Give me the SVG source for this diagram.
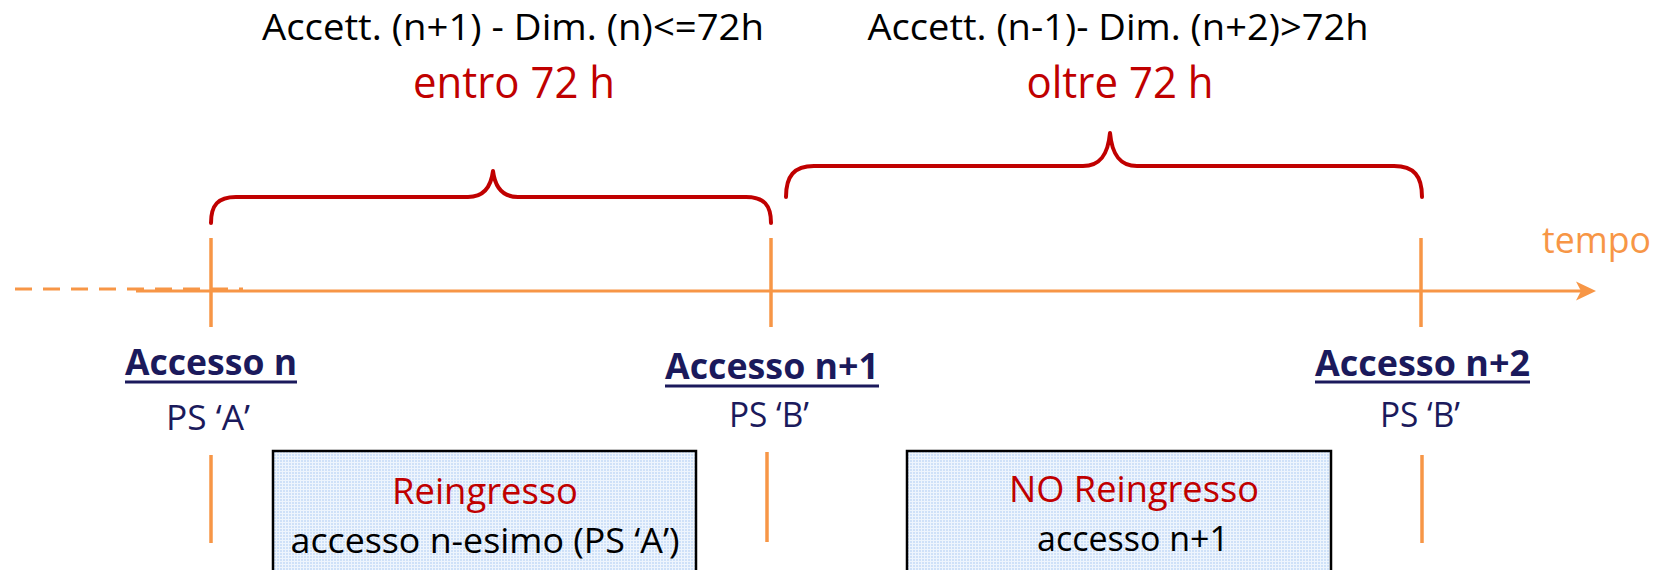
<svg xmlns="http://www.w3.org/2000/svg" width="1664" height="570" viewBox="0 0 1664 570">
  <defs>
    <!-- fine light-blue grid fill used by the outcome boxes -->
    <pattern id="grid" width="3" height="3" patternUnits="userSpaceOnUse">
      <rect width="3" height="3" fill="#CFE1F8"/>
      <rect x="0" y="0" width="3" height="1" fill="#EEF5FD"/>
      <rect x="0" y="0" width="1" height="3" fill="#EEF5FD"/>
    </pattern>
  </defs>
  <style>
    text { font-family: "Open Sans", "Noto Sans", "Liberation Sans", sans-serif; }
    .title { font-size: 36px; fill: #000000; }
    .span { font-size: 43px; fill: #C00000; }
    .tempo { font-size: 36px; fill: #F79646; }
    .acc { font-size: 36px; font-weight: bold; fill: #1B1A5C; }
    .ps { font-size: 35px; fill: #1B1A5C; }
    .boxhead { font-size: 37px; fill: #C00000; }
    .boxbody { font-size: 35px; fill: #000000; }
    .axis { stroke: #F79646; stroke-width: 3; fill: none; }
    .tick { stroke: #F79646; stroke-width: 3.5; }
    .brace { stroke: #C00000; stroke-width: 4; fill: none; stroke-linecap: round; stroke-linejoin: round; }
    .uline { stroke: #1B1A5C; stroke-width: 3; }
    .box { fill: url(#grid); stroke: #000000; stroke-width: 2.5; }
  </style>

  <!-- interval captions -->
  <g id="caption-within">
    <text class="title" x="513" y="40" text-anchor="middle" textLength="502" lengthAdjust="spacingAndGlyphs">Accett. (n+1) - Dim. (n)&lt;=72h</text>
    <text class="span" x="514" y="98" text-anchor="middle" textLength="202" lengthAdjust="spacingAndGlyphs">entro 72 h</text>
  </g>
  <g id="caption-beyond">
    <text class="title" x="1118" y="40" text-anchor="middle" textLength="501" lengthAdjust="spacingAndGlyphs">Accett. (n-1)- Dim. (n+2)&gt;72h</text>
    <text class="span" x="1120" y="98" text-anchor="middle" textLength="187" lengthAdjust="spacingAndGlyphs">oltre 72 h</text>
  </g>

  <!-- curly braces spanning the intervals -->
  <g id="connectors">
    <path class="brace" d="M211,223 C211,205 218,197 236,197 L468,197 C484,197 491,187 493,171 C495,187 502,197 518,197 L746,197 C764,197 771,205 771,223"/>
    <path class="brace" d="M786,197 C786,176 794,166 814,166 L1083,166 C1100,166 1108,155 1110,133 C1112,155 1120,166 1137,166 L1394,166 C1414,166 1422,176 1422,197"/>
  </g>

  <!-- time axis -->
  <g id="time-axis">
    <line class="axis" x1="15" y1="289" x2="243" y2="289" stroke-dasharray="17 11"/>
    <line class="axis" x1="136" y1="291" x2="1582" y2="291"/>
    <polygon points="1596,291 1576,281.5 1581,291 1576,300.5" fill="#F79646"/>
    <text class="tempo" x="1542" y="253" textLength="109" lengthAdjust="spacingAndGlyphs">tempo</text>
  </g>

  <!-- access events on the axis -->
  <g id="access-n">
    <line class="tick" x1="211" y1="238" x2="211" y2="327"/>
    <text class="acc" x="125" y="375" textLength="172" lengthAdjust="spacingAndGlyphs">Accesso n</text>
    <line class="uline" x1="125" y1="382" x2="297" y2="382"/>
    <text class="ps" x="208" y="430" text-anchor="middle" textLength="84" lengthAdjust="spacingAndGlyphs">PS ‘A’</text>
    <line class="tick" x1="211" y1="455" x2="211" y2="543"/>
  </g>
  <g id="access-n1">
    <line class="tick" x1="771" y1="238" x2="771" y2="327"/>
    <text class="acc" x="665" y="379" textLength="214" lengthAdjust="spacingAndGlyphs">Accesso n+1</text>
    <line class="uline" x1="665" y1="386" x2="879" y2="386"/>
    <text class="ps" x="769" y="427" text-anchor="middle" textLength="80" lengthAdjust="spacingAndGlyphs">PS ‘B’</text>
    <line class="tick" x1="767" y1="452" x2="767" y2="542"/>
  </g>
  <g id="access-n2">
    <line class="tick" x1="1421" y1="238" x2="1421" y2="327"/>
    <text class="acc" x="1315" y="376" textLength="215" lengthAdjust="spacingAndGlyphs">Accesso n+2</text>
    <line class="uline" x1="1315" y1="382" x2="1530" y2="382"/>
    <text class="ps" x="1420" y="427" text-anchor="middle" textLength="80" lengthAdjust="spacingAndGlyphs">PS ‘B’</text>
    <line class="tick" x1="1422" y1="455" x2="1422" y2="543"/>
  </g>

  <!-- outcome boxes -->
  <g id="box-reingresso">
    <rect class="box" x="273" y="451" width="423" height="130"/>
    <text class="boxhead" x="485" y="504" text-anchor="middle" textLength="186" lengthAdjust="spacingAndGlyphs">Reingresso</text>
    <text class="boxbody" x="485" y="553" text-anchor="middle" textLength="389" lengthAdjust="spacingAndGlyphs">accesso n-esimo (PS ‘A’)</text>
  </g>
  <g id="box-no-reingresso">
    <rect class="box" x="907" y="451" width="424" height="130"/>
    <text class="boxhead" x="1134" y="502" text-anchor="middle" textLength="250" lengthAdjust="spacingAndGlyphs">NO Reingresso</text>
    <text class="boxbody" x="1133" y="551" text-anchor="middle" textLength="192" lengthAdjust="spacingAndGlyphs">accesso n+1</text>
  </g>
</svg>
